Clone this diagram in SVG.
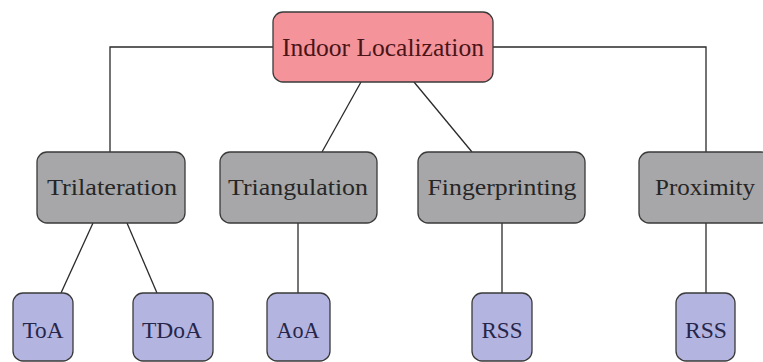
<svg xmlns="http://www.w3.org/2000/svg" width="763" height="362" viewBox="0 0 763 362">
  <style>
    .box { stroke: #3a3a3a; stroke-width: 1.3; }
    .root { fill: #f4939a; }
    .mid { fill: #a7a7a9; }
    .leaf { fill: #b4b4e0; }
    text { font-family: "Liberation Serif", "DejaVu Serif", serif; text-anchor: middle; }
    .t-root { fill: #4a1418; font-size: 26px; }
    .t-mid { fill: #262626; font-size: 24px; }
    .t-leaf { fill: #26264a; font-size: 24px; }
    .edge { fill: none; stroke: #2a2a2a; stroke-width: 1.3; }
  </style>

  <!-- connectors -->
  <g id="connectors">
    <polyline class="edge" points="273,47 110,47 110,152"/>
    <polyline class="edge" points="493,47 706,47 706,152"/>
    <line class="edge" x1="361" y1="82" x2="322" y2="152"/>
    <line class="edge" x1="414" y1="82" x2="472" y2="152"/>
    <line class="edge" x1="93" y1="223" x2="61" y2="293"/>
    <line class="edge" x1="127" y1="223" x2="157" y2="293"/>
    <line class="edge" x1="298" y1="223" x2="298" y2="293"/>
    <line class="edge" x1="502" y1="223" x2="502" y2="293"/>
    <line class="edge" x1="706" y1="223" x2="706" y2="293"/>
  </g>

  <!-- root -->
  <g id="indoor-localization">
    <rect class="box root" x="273" y="12" width="220" height="70" rx="10"/>
    <text class="t-root" x="383" y="56" textLength="202" lengthAdjust="spacingAndGlyphs">Indoor Localization</text>
  </g>

  <!-- techniques -->
  <g id="trilateration">
    <rect class="box mid" x="37" y="152" width="148" height="71" rx="10"/>
    <text class="t-mid" x="112" y="195" textLength="130" lengthAdjust="spacingAndGlyphs">Trilateration</text>
  </g>
  <g id="triangulation">
    <rect class="box mid" x="220" y="152" width="157" height="71" rx="10"/>
    <text class="t-mid" x="298" y="195" textLength="140" lengthAdjust="spacingAndGlyphs">Triangulation</text>
  </g>
  <g id="fingerprinting">
    <rect class="box mid" x="418" y="152" width="167" height="71" rx="10"/>
    <text class="t-mid" x="502" y="195" textLength="149" lengthAdjust="spacingAndGlyphs">Fingerprinting</text>
  </g>
  <g id="proximity">
    <rect class="box mid" x="639" y="152" width="132" height="71" rx="10"/>
    <text class="t-mid" x="705" y="195" textLength="100" lengthAdjust="spacingAndGlyphs">Proximity</text>
  </g>

  <!-- measurements -->
  <g id="toa">
    <rect class="box leaf" x="13" y="293" width="60" height="68" rx="10"/>
    <text class="t-leaf" x="43" y="338" textLength="41" lengthAdjust="spacingAndGlyphs">ToA</text>
  </g>
  <g id="tdoa">
    <rect class="box leaf" x="133" y="293" width="80" height="68" rx="10"/>
    <text class="t-leaf" x="172" y="338" textLength="60" lengthAdjust="spacingAndGlyphs">TDoA</text>
  </g>
  <g id="aoa">
    <rect class="box leaf" x="267" y="293" width="63" height="68" rx="10"/>
    <text class="t-leaf" x="298" y="338" textLength="43" lengthAdjust="spacingAndGlyphs">AoA</text>
  </g>
  <g id="rss-fingerprinting">
    <rect class="box leaf" x="472" y="293" width="60" height="68" rx="10"/>
    <text class="t-leaf" x="502" y="338" textLength="41" lengthAdjust="spacingAndGlyphs">RSS</text>
  </g>
  <g id="rss-proximity">
    <rect class="box leaf" x="676" y="293" width="59" height="68" rx="10"/>
    <text class="t-leaf" x="706" y="338" textLength="42" lengthAdjust="spacingAndGlyphs">RSS</text>
  </g>
</svg>
